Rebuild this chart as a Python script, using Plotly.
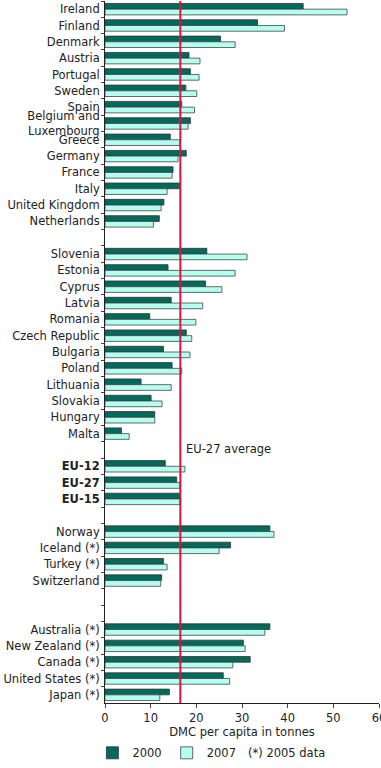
import plotly.graph_objects as go

categories = [
    "Ireland", "Finland", "Denmark", "Austria", "Portugal", "Sweden", "Spain",
    "Belgium and<br>Luxembourg", "Greece", "Germany", "France", "Italy",
    "United Kingdom", "Netherlands", " ",
    "Slovenia", "Estonia", "Cyprus", "Latvia", "Romania", "Czech Republic",
    "Bulgaria", "Poland", "Lithuania", "Slovakia", "Hungary", "Malta", "  ",
    "<b>EU-12</b>", "<b>EU-27</b>", "<b>EU-15</b>", "   ",
    "Norway", "Iceland (*)", "Turkey (*)", "Switzerland", "    ", "     ",
    "Australia (*)", "New Zealand (*)", "Canada (*)", "United States (*)", "Japan (*)",
]

values_2000 = [
    43.4, 33.4, 25.3, 18.4, 18.7, 17.7, 16.8, 18.7, 14.3, 17.8, 14.9, 16.3,
    12.9, 11.9, None,
    22.3, 13.8, 22.0, 14.5, 9.8, 17.8, 12.8, 14.7, 7.9, 10.1, 10.9, 3.6, None,
    13.2, 15.7, 16.5, None,
    36.1, 27.5, 12.8, 12.4, None, None,
    36.1, 30.3, 31.8, 25.9, 14.1,
]

values_2007 = [
    53.0, 39.3, 28.5, 20.8, 20.6, 20.1, 19.6, 18.2, 16.4, 16.0, 14.7, 13.6,
    12.3, 10.6, None,
    31.1, 28.5, 25.6, 21.4, 19.9, 19.0, 18.6, 16.8, 14.5, 12.5, 10.9, 5.3, None,
    17.5, 16.4, 16.4, None,
    37.0, 25.0, 13.6, 12.2, None, None,
    35.0, 30.7, 28.0, 27.3, 12.0,
]

eu27_average = 16.5
x_ticks = [0, 10, 20, 30, 40, 50, 60]

FONT = "DejaVu Sans"
DARK = "#006b5c"
LIGHT = "#b4fff0"

fig = go.Figure()
fig.add_trace(go.Bar(
    name="2000", y=categories, x=values_2000, orientation="h",
    marker=dict(color=DARK, line=dict(color="#333333", width=0.8)),
))
fig.add_trace(go.Bar(
    name="2007", y=categories, x=values_2007, orientation="h",
    marker=dict(color=LIGHT, line=dict(color="#444444", width=0.8)),
))

fig.add_shape(type="line", xref="x", yref="paper", x0=eu27_average, x1=eu27_average,
              y0=0, y1=1, line=dict(color="#d8143c", width=2))

fig.add_annotation(x=17.4, y=26.95, xref="x", yref="y", text="EU-27 average",
                   showarrow=False, xanchor="left", yanchor="middle",
                   font=dict(family=FONT, size=11.5, color="#222222"))
fig.add_annotation(x=0.515, y=-0.071, xref="paper", yref="paper", text="(*) 2005 data",
                   showarrow=False, xanchor="left", yanchor="middle",
                   font=dict(family=FONT, size=11.5, color="#222222"))

fig.update_layout(
    width=381, height=768,
    margin=dict(l=105, r=2, t=1, b=61),
    barmode="group", bargap=0.3, bargroupgap=0.0,
    plot_bgcolor="white", paper_bgcolor="white",
    font=dict(family=FONT, size=11.5, color="#222222"),
    showlegend=True,
    legend=dict(orientation="h", x=-0.046, y=-0.071, xanchor="left", yanchor="middle",
                font=dict(family=FONT, size=11.5), itemwidth=30, traceorder="normal"),
    xaxis=dict(range=[0, 60], tickvals=x_ticks, ticks="outside", ticklen=4,
               showline=True, linecolor="#222222", linewidth=1, showgrid=False,
               zeroline=False, automargin=False, ticklabeloverflow="allow",
               title=dict(text="DMC per capita in tonnes", standoff=4,
                          font=dict(family=FONT, size=11.5))),
    yaxis=dict(type="category", categoryorder="array", categoryarray=categories,
               autorange="reversed", tickson="boundaries", ticks="outside", ticklen=3,
               showline=True, linecolor="#222222", linewidth=1, showgrid=False,
               automargin=False, ticklabelstandoff=2),
)

fig.write_html("out.html", include_plotlyjs=True,
               config={"displayModeBar": False},
               post_script="document.body.style.margin='0';")
